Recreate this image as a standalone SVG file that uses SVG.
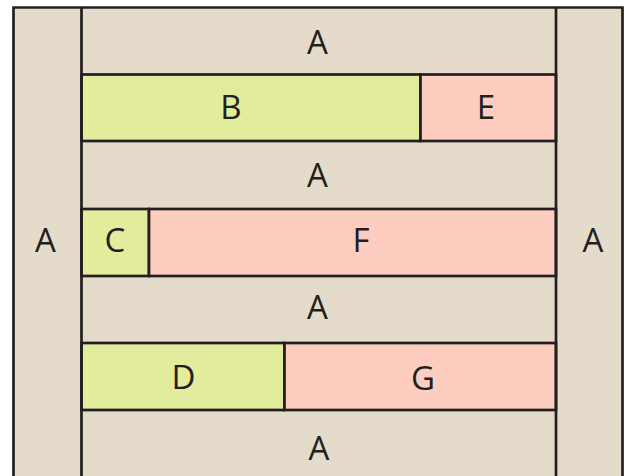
<svg xmlns="http://www.w3.org/2000/svg" width="631" height="476" viewBox="0 0 631 476">
  <style>
    .a { fill: #e4dbca; }
    .g { fill: #e3eb9d; stroke: #231f20; stroke-width: 2.7; }
    .p { fill: #fdcdbf; stroke: #231f20; stroke-width: 2.7; }
    .ln { fill: none; stroke: #231f20; stroke-width: 2.7; }
    text { font-family: "Open Sans", "Noto Sans", sans-serif; font-size: 33px; fill: #231f20; text-anchor: middle; }
  </style>
  <g id="A-background">
    <rect class="a" x="13.5" y="7.5" width="609" height="470"/>
  </g>
  <g id="A-left"><text x="45.5" y="252">A</text></g>
  <g id="A-right"><text x="593" y="252">A</text></g>
  <g id="A-1"><text x="317.5" y="54">A</text></g>
  <g id="B"><rect class="g" x="81.5" y="74.5" width="339" height="66.5"/><text x="231" y="119">B</text></g>
  <g id="E"><rect class="p" x="420.5" y="74.5" width="135.5" height="66.5"/><text x="486" y="119">E</text></g>
  <g id="A-2"><text x="317.5" y="187">A</text></g>
  <g id="C"><rect class="g" x="81.5" y="209" width="67.5" height="67"/><text x="115" y="252">C</text></g>
  <g id="F"><rect class="p" x="149" y="209" width="407" height="67"/><text x="361" y="252">F</text></g>
  <g id="A-3"><text x="317.5" y="319">A</text></g>
  <g id="D"><rect class="g" x="81.5" y="343" width="203" height="67"/><text x="183.5" y="389">D</text></g>
  <g id="G"><rect class="p" x="284.5" y="343" width="271.5" height="67"/><text x="423" y="390">G</text></g>
  <g id="A-4"><text x="319" y="460">A</text></g>
  <g id="connectors">
    <path class="ln" d="M13.5,478 V7.5 H622.5 V478"/>
    <path class="ln" d="M81.5,7.5 V478 M556,7.5 V478"/>
  </g>
</svg>
